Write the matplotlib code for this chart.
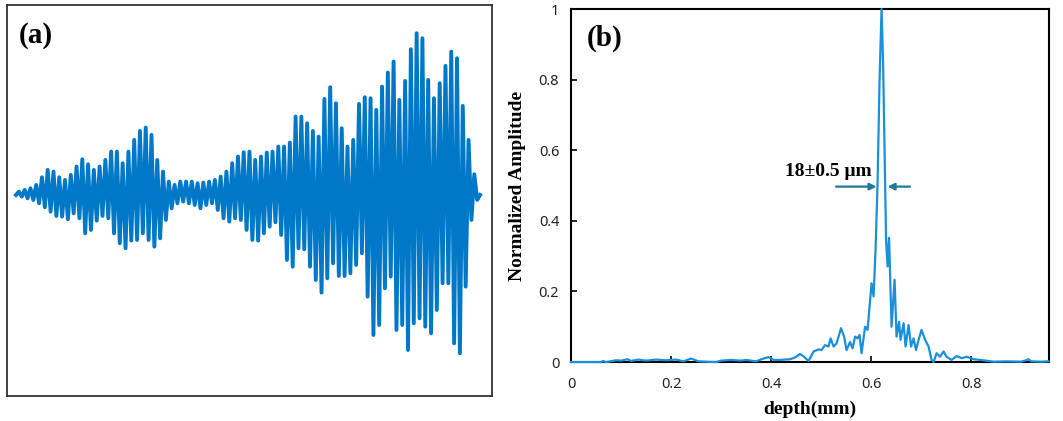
import numpy as np
import matplotlib
matplotlib.use("Agg")
import matplotlib.pyplot as plt

# ---- panel (a): interferogram, peak / trough heights (a.u.)
upper = [10, 15, 20,
         30, 53, 75, 70, 53, 45, 60, 85, 107, 92,
         75, 85, 105, 130, 130, 95, 130, 165, 192, 202,
         180, 105, 70, 40, 30, 40, 40, 40, 35, 37,
         40, 45, 55, 70, 95, 115, 128, 130, 105, 115,
         127, 130, 145, 145, 157, 235, 235, 215, 192, 175,
         288, 323, 275, 200, 145, 165, 273, 293, 290, 255,
         325, 367, 400, 285, 342, 437, 485, 470, 345, 290,
         335, 387, 430, 410, 267, 165, 62]
lower = [5, 10, 15,
         25, 37, 50, 63, 65, 73, 55, 70, 115, 105,
         77, 63, 70, 115, 145, 160, 137, 135, 115, 135,
         155, 130, 75, 40, 25, 20, 25, 30, 40, 30,
         25, 45, 70, 80, 70, 75, 105, 135, 137, 115,
         95, 82, 120, 195, 215, 160, 163, 215, 255, 293,
         250, 205, 243, 243, 235, 210, 175, 305, 420, 390,
         280, 245, 405, 390, 465, 385, 370, 395, 415, 345,
         265, 265, 445, 475, 275, 75, 15]

# ---- panel (b): A-scan, depth (mm) vs normalized amplitude
depth = [0.0, 0.06, 0.064, 0.07, 0.09, 0.10, 0.113, 0.12, 0.134, 0.15, 0.17, 0.19, 0.21,
         0.225, 0.24, 0.255, 0.27, 0.29, 0.30, 0.32, 0.34, 0.35, 0.37, 0.385, 0.395, 0.405,
         0.418, 0.438, 0.448, 0.458, 0.466, 0.475, 0.485, 0.495, 0.501, 0.508, 0.515,
         0.519, 0.525, 0.531, 0.540, 0.546, 0.551, 0.558, 0.563, 0.568, 0.573, 0.577,
         0.581, 0.588, 0.593, 0.597, 0.601, 0.605, 0.609, 0.613, 0.617, 0.621, 0.624,
         0.627, 0.630, 0.633, 0.636, 0.641, 0.647, 0.651, 0.656, 0.659, 0.665, 0.669,
         0.675, 0.680, 0.685, 0.690, 0.695, 0.701, 0.708, 0.715, 0.721, 0.725, 0.731,
         0.738, 0.745, 0.751, 0.761, 0.771, 0.781, 0.791, 0.805, 0.818, 0.83, 0.845,
         0.87, 0.90, 0.91, 0.915, 0.92, 0.94, 0.955]
amp = [0.0, 0.0, 0.003, 0.0, 0.005, 0.004, 0.008, 0.003, 0.007, 0.004, 0.007, 0.005, 0.007,
       0.002, 0.010, 0.002, 0.001, 0.0, 0.004, 0.006, 0.004, 0.006, 0.002, 0.01, 0.014, 0.006,
       0.006, 0.008, 0.013, 0.023, 0.015, 0.003, 0.030, 0.036, 0.034, 0.048, 0.044,
       0.067, 0.044, 0.053, 0.096, 0.072, 0.034, 0.057, 0.039, 0.072, 0.067, 0.077,
       0.025, 0.100, 0.091, 0.157, 0.223, 0.186, 0.318, 0.507, 0.80, 1.0, 0.85,
       0.602, 0.347, 0.271, 0.352, 0.100, 0.233, 0.072, 0.114, 0.063, 0.110, 0.044,
       0.105, 0.044, 0.067, 0.034, 0.063, 0.091, 0.063, 0.044, 0.006, 0.0, 0.025,
       0.015, 0.030, 0.015, 0.006, 0.017, 0.011, 0.015, 0.008, 0.006, 0.004, 0.001,
       0.002, 0.001, 0.005, 0.008, 0.002, 0.001, 0.002]

xticks = [0, 0.2, 0.4, 0.6, 0.8]
yticks = [0, 0.2, 0.4, 0.6, 0.8, 1]
fwhm_text = "18\u00b10.5 \u03bcm"

serif = "Liberation Serif"
sans = "Noto Sans"

fig = plt.figure(figsize=(10.63, 4.21), dpi=100)

# %% panel (a)
ax1 = fig.add_axes([0.0066, 0.0594, 0.4563, 0.929])
sig = [0]
for u, l in zip(upper, lower):
    sig += [u, -l]
sig.append(0)
n = len(sig)
ppi = 464 / (n - 1)  # pixels per sample
ax1.plot(np.arange(n), sig, color="#0078c8", lw=2.8, solid_joinstyle="round")
ax1.set_xlim(-9 / ppi, n - 1 + 12 / ppi)
ax1.set_ylim(-603, 570)
ax1.set_xticks([])
ax1.set_yticks([])
for s in ax1.spines.values():
    s.set_color("#333333")
    s.set_linewidth(1.3)
ax1.text(0.025, 0.955, "(a)", transform=ax1.transAxes, fontsize=21,
         fontweight="bold", family=serif, va="top", ha="left")

# %% panel (b)
ax2 = fig.add_axes([0.5372, 0.140, 0.4497, 0.8385])
ax2.plot(depth, amp, color="#1a8fdc", lw=1.6, zorder=3, clip_on=False)
ax2.set_xlim(0, 0.956)
ax2.set_ylim(0, 1.0)
ax2.set_xticks(xticks)
ax2.set_xticklabels([f"{t:g}" for t in xticks], family=sans, fontsize=10.5, color="#222222")
ax2.set_yticks(yticks)
ax2.set_yticklabels([f"{t:g}" for t in yticks], family=sans, fontsize=10.5, color="#222222")
ax2.tick_params(direction="in", length=4, width=1.2)
ax2.tick_params(axis="x", pad=11)
ax2.tick_params(axis="y", pad=8.5)
for s in ax2.spines.values():
    s.set_color("black")
    s.set_linewidth(1.5)
ax2.set_xlabel("depth(mm)", family=serif, fontweight="bold", fontsize=14, labelpad=6)
ax2.set_ylabel("Normalized Amplitude", family=serif, fontweight="bold", fontsize=14, labelpad=9)
ax2.text(0.032, 0.955, "(b)", transform=ax2.transAxes, fontsize=21,
         fontweight="bold", family=serif, va="top", ha="left")

arrow_col = "#1d7a9c"
ax2.annotate("", xy=(0.611, 0.497), xytext=(0.53, 0.497),
             arrowprops=dict(arrowstyle="-|>", color=arrow_col, lw=1.6,
                             mutation_scale=10, shrinkA=0, shrinkB=0))
ax2.annotate("", xy=(0.633, 0.497), xytext=(0.678, 0.497),
             arrowprops=dict(arrowstyle="-|>", color=arrow_col, lw=1.6,
                             mutation_scale=10, shrinkA=0, shrinkB=0))
ax2.text(0.602, 0.527, fwhm_text, family=serif, fontweight="bold", fontsize=14,
         ha="right", va="baseline")

fig.savefig("out.png", dpi=100)
